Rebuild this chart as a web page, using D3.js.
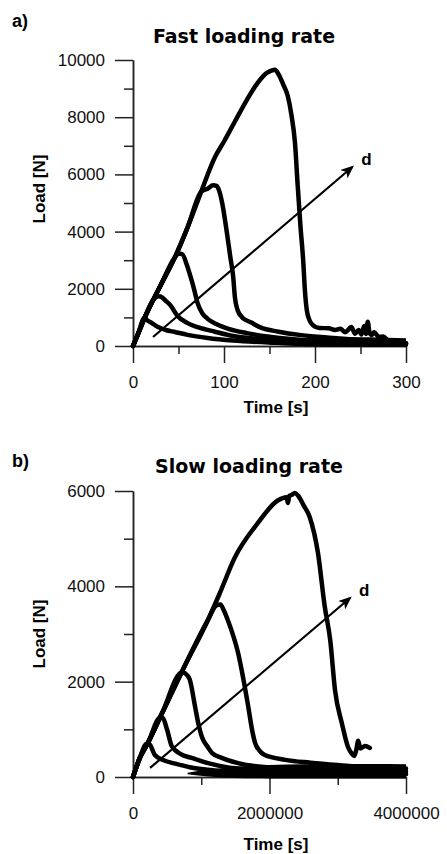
<!DOCTYPE html>
<html>
<head>
<meta charset="utf-8">
<title>Load vs time</title>
<script src="https://d3js.org/d3.v7.min.js"></script>
<style>
  body { margin: 0; background: #fff; }
  svg { display: block; }
  .tick text { font-family: "Liberation Sans", Arial, sans-serif; font-size: 17px; fill: #111; }
  .axis path, .axis line { stroke: #222; stroke-width: 1.5px; }
  .curve { fill: none; stroke: #000; stroke-width: 4.5px; stroke-linejoin: round; stroke-linecap: round; }
  .band { fill: #000; }
  .lbl { font-family: "Liberation Sans", Arial, sans-serif; font-weight: bold; fill: #000; }
  .title { font-family: "DejaVu Sans", sans-serif; font-weight: bold; font-size: 19px; fill: #000; }
</style>
</head>
<body>
<svg id="chart" width="447" height="854"></svg>
<script>
// ---- data (a) fast loading rate, time [s], load [N]
const fastTitle = "Fast loading rate";
const fastXTicks = [0, 100, 200, 300];
const fastXMinor = [50, 150, 250];
const fastYTicks = [0, 2000, 4000, 6000, 8000, 10000];
const fastYMinor = [1000, 3000, 5000, 7000, 9000];
// common rising branch
const fastRise = [[0, 0], [5, 380], [13, 1000], [22, 1600], [30, 2100], [46, 3100], [60, 4150],
  [75, 5400], [90, 6600], [100, 7150], [112, 7850], [125, 8600], [137, 9200], [147, 9550]];
// falling branch of each specimen, d = 1..5
const fastFall = [
  [[15, 920], [20, 820], [27, 670], [36, 560], [46, 490], [60, 390], [82, 280], [110, 190], [150, 120], [200, 80], [300, 50]],
  [[28, 1740], [32, 1700], [36, 1580], [41, 1430], [49, 1050], [60, 800], [71, 660], [90, 500], [112, 340], [150, 220], [200, 130], [300, 80]],
  [[50, 3230], [54, 3210], [59, 2850], [63, 2450], [67, 2000], [71, 1500], [76, 1150], [82, 950], [92, 760], [105, 600], [125, 450], [150, 320], [200, 180], [300, 100]],
  [[82, 5500], [88, 5620], [92, 5600], [95, 5400], [98, 5000], [103, 4000], [107, 3100], [110, 2450], [112, 1700], [115, 1250], [120, 1000], [130, 820], [140, 650], [160, 500], [185, 380], [220, 280], [260, 180], [300, 100]],
  [[152, 9630], [156, 9660], [160, 9500], [165, 9150], [170, 8750], [174, 8100], [178, 7100], [181, 5600], [184, 4200], [187, 3000], [189, 1900], [191, 1250], [194, 900], [198, 720], [205, 630], [215, 620], [222, 560], [228, 600], [233, 480], [240, 660], [244, 430], [248, 560], [251, 400], [254, 700], [256, 420], [258, 850], [260, 450], [262, 380], [265, 480], [270, 320], [275, 330], [280, 200], [284, 120], [290, 90], [300, 80]]
];
// noisy residual band near zero: [time, low, high]
const fastBand = [[150, 40, 110], [180, 0, 260], [220, -30, 300], [260, -30, 310], [280, -20, 290], [300, -20, 270]];
const fastArrow = [[22, 315], [241, 6260]];

// ---- data (b) slow loading rate
const slowTitle = "Slow loading rate";
const slowXTicks = [0, 2000000, 4000000];
const slowXMinor = [1000000, 3000000];
const slowYTicks = [0, 2000, 4000, 6000];
const slowYMinor = [1000, 3000, 5000];
const slowRise = [[0, 0], [100000, 400], [220000, 720], [420000, 1320], [720000, 2220], [1100000, 3300],
  [1270000, 3850], [1490000, 4600], [1830000, 5330], [2120000, 5800]];
const slowFall = [
  [[200000, 700], [240000, 690], [320000, 460], [450000, 350], [620000, 280], [850000, 200], [1100000, 150], [1500000, 100], [2000000, 80], [4000000, 60]],
  [[400000, 1250], [440000, 1230], [500000, 990], [570000, 640], [700000, 480], [860000, 400], [1100000, 290], [1350000, 210], [1800000, 150], [2500000, 110], [4000000, 80]],
  [[720000, 2200], [760000, 2180], [830000, 2050], [910000, 1470], [960000, 1100], [1010000, 840], [1100000, 620], [1160000, 500], [1300000, 400], [1540000, 290], [2000000, 200], [3000000, 150], [4000000, 120]],
  [[1220000, 3600], [1280000, 3620], [1330000, 3500], [1390000, 3290], [1540000, 2600], [1680000, 1550], [1750000, 950], [1790000, 710], [1850000, 560], [1930000, 460], [2230000, 360], [2600000, 300], [3000000, 250], [3500000, 200], [4000000, 180]],
  [[2250000, 5870], [2270000, 5750], [2290000, 5900], [2330000, 5920], [2370000, 5960], [2420000, 5900], [2500000, 5700], [2590000, 5450], [2710000, 4700], [2810000, 3570], [2890000, 2870], [2960000, 1820], [3060000, 1130], [3150000, 630], [3200000, 500], [3240000, 440], [3270000, 560], [3300000, 760], [3330000, 600], [3400000, 650], [3470000, 610]]
];
const slowBand = [[800000, 60, 90], [1100000, 10, 150], [1500000, -20, 210], [2000000, -30, 250], [2500000, -30, 265], [3000000, -30, 275], [3500000, -30, 275], [4000000, -30, 270]];
const slowArrow = [[250000, 190], [3180000, 3755]];

const svg = d3.select("#chart");

svg.append("defs").append("marker")
  .attr("id", "head")
  .attr("viewBox", "0 0 12 10")
  .attr("refX", 10).attr("refY", 5)
  .attr("markerWidth", 6).attr("markerHeight", 5)
  .attr("markerUnits", "strokeWidth")
  .attr("orient", "auto")
  .append("path")
  .attr("d", "M0,0 L12,5 L0,10 L3,5 Z")
  .attr("fill", "#000");

function panel(o) {
  const x = d3.scaleLinear().domain(o.xDomain).range([133, 406]);
  const y = d3.scaleLinear().domain(o.yDomain).range([o.y0, o.y1]);
  const g = svg.append("g");

  // axes: long labelled ticks + short minor ticks
  g.append("g").attr("class", "axis").attr("transform", "translate(133,0)")
    .call(d3.axisLeft(y).tickValues(o.yMinor).tickSize(9).tickFormat("").tickSizeOuter(0));
  g.append("g").attr("class", "axis").attr("transform", "translate(133,0)")
    .call(d3.axisLeft(y).tickValues(o.yTicks).tickSize(18).tickPadding(10).tickFormat(d3.format("d")).tickSizeOuter(0));
  g.append("g").attr("class", "axis").attr("transform", `translate(0,${o.y0})`)
    .call(d3.axisBottom(x).tickValues(o.xMinor).tickSize(8).tickFormat("").tickSizeOuter(0));
  g.append("g").attr("class", "axis").attr("transform", `translate(0,${o.y0})`)
    .call(d3.axisBottom(x).tickValues(o.xTicks).tickSize(17).tickPadding(13).tickFormat(d3.format("d")).tickSizeOuter(0));

  // residual noise band
  g.append("path").attr("class", "band")
    .attr("d", d3.area().x(d => x(d[0])).y0(d => y(d[1])).y1(d => y(d[2])).curve(d3.curveMonotoneX)(o.band));

  const line = d3.line().x(d => x(d[0])).y(d => y(d[1])).curve(d3.curveMonotoneX);
  o.fall.forEach(f => {
    const pts = o.rise.filter(p => p[0] < f[0][0]).concat(f);
    g.append("path").attr("class", "curve").attr("d", line(pts));
  });

  // arrow indicating increasing d
  g.append("line")
    .attr("x1", x(o.arrow[0][0])).attr("y1", y(o.arrow[0][1]))
    .attr("x2", x(o.arrow[1][0])).attr("y2", y(o.arrow[1][1]))
    .attr("stroke", "#000").attr("stroke-width", 2.2)
    .attr("marker-end", "url(#head)");
  g.append("text").attr("class", "lbl").attr("font-size", 17)
    .attr("x", x(o.arrow[1][0]) + 9).attr("y", y(o.arrow[1][1]) - 2).text("d");

  g.append("text").attr("class", "lbl").attr("font-size", 18)
    .attr("x", 12).attr("y", o.letterY).text(o.letter);
  g.append("text").attr("class", "title").attr("text-anchor", "middle")
    .attr("x", o.titleX).attr("y", o.titleY).text(o.title);
  g.append("text").attr("class", "lbl").attr("font-size", 17).attr("text-anchor", "middle")
    .attr("x", 276).attr("y", o.xLabelY).text("Time [s]");
  g.append("text").attr("class", "lbl").attr("font-size", 17).attr("text-anchor", "middle")
    .attr("transform", `translate(45,${o.yLabelY}) rotate(-90)`).text("Load [N]");
}

panel({
  xDomain: [0, 300], yDomain: [0, 10000], y0: 346, y1: 60,
  xTicks: fastXTicks, xMinor: fastXMinor, yTicks: fastYTicks, yMinor: fastYMinor,
  rise: fastRise, fall: fastFall, band: fastBand, arrow: fastArrow,
  letter: "a)", letterY: 27, title: fastTitle, titleX: 244, titleY: 43,
  xLabelY: 413, yLabelY: 189
});

panel({
  xDomain: [0, 4000000], yDomain: [0, 6000], y0: 777, y1: 491,
  xTicks: slowXTicks, xMinor: slowXMinor, yTicks: slowYTicks, yMinor: slowYMinor,
  rise: slowRise, fall: slowFall, band: slowBand, arrow: slowArrow,
  letter: "b)", letterY: 467, title: slowTitle, titleX: 249, titleY: 473,
  xLabelY: 850, yLabelY: 634
});
</script>
</body>
</html>
